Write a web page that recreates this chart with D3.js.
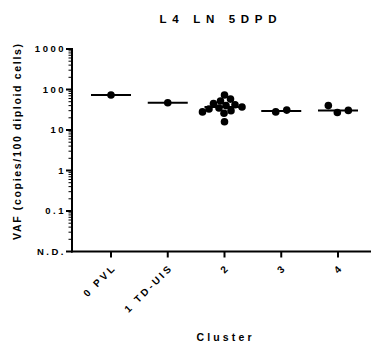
<!DOCTYPE html>
<html>
<head>
<meta charset="utf-8">
<script src="https://cdn.jsdelivr.net/npm/d3@7"></script>
<style>
	body { margin: 0; background: #fff; }
	svg { display: block; font-family: 'Liberation Sans', Arial, sans-serif; font-weight: bold; }
</style>
</head>
<body>
<svg id="chart-svg" width="371" height="346"></svg>
<script>
// values
const clusters = ['0 PVL', '1 TD-UIS', '2', '3', '4'];
const cluster0 = [73];
const cluster1 = [47];
const cluster2 = [73, 16, 58, 52, 45, 42, 40, 37, 35, 33, 30, 28, 26];
const cluster3 = [28, 31];
const cluster4 = [27, 30.5, 40];
const yTicks = [0.01, 0.1, 1, 10, 100, 1000];
const yTickLabels = ['N.D.', '0.1', '1', '10', '100', '1000'];

const seriesData = [cluster0, cluster1, cluster2, cluster3, cluster4];
const swarmGap = [11, 11, 7, 11, 11]; // spacing used to spread dots of each cluster

const svg = d3.select('#chart-svg');

const x = d3.scalePoint().domain(clusters).range([111, 338]);
const y = d3.scaleLog().domain([0.01, 1000]).range([251.5, 49]);

// title
svg.append('text')
	.attr('x', 218).attr('y', 23)
	.attr('text-anchor', 'middle')
	.attr('font-size', 11.5)
	.attr('textLength', 117).attr('lengthAdjust', 'spacing')
	.text('L4 LN 5DPD');

// y axis: minor ticks first
let minor = [];
for (let e = -2; e < 3; e++) {
	for (let m = 2; m < 10; m++) minor.push(m * Math.pow(10, e));
}
const yAxisG = svg.append('g');
yAxisG.selectAll('line.minor').data(minor).enter().append('line')
	.attr('x1', 68.5).attr('x2', 72)
	.attr('y1', (d) => y(d)).attr('y2', (d) => y(d))
	.attr('stroke', '#000').attr('stroke-width', 1);
yAxisG.selectAll('line.major').data(yTicks).enter().append('line')
	.attr('x1', 66).attr('x2', 72)
	.attr('y1', (d) => y(d)).attr('y2', (d) => y(d))
	.attr('stroke', '#000').attr('stroke-width', 2);
yAxisG.append('line')
	.attr('x1', 72).attr('x2', 72)
	.attr('y1', y(1000) - 1).attr('y2', y(0.01) + 1)
	.attr('stroke', '#000').attr('stroke-width', 2);
yAxisG.selectAll('text').data(yTicks).enter().append('text')
	.attr('x', 66).attr('y', (d) => y(d) + 3.4)
	.attr('text-anchor', 'end')
	.attr('font-size', 9.5)
	.attr('letter-spacing', 2.5)
	.text((d, i) => yTickLabels[i]);

// x axis
const xAxisG = svg.append('g');
xAxisG.append('line')
	.attr('x1', 71).attr('x2', 371)
	.attr('y1', y(0.01)).attr('y2', y(0.01))
	.attr('stroke', '#000').attr('stroke-width', 2);
xAxisG.selectAll('line.tick').data(clusters).enter().append('line')
	.attr('x1', (d) => x(d)).attr('x2', (d) => x(d))
	.attr('y1', y(0.01)).attr('y2', y(0.01) + 6)
	.attr('stroke', '#000').attr('stroke-width', 2);
xAxisG.selectAll('text').data(clusters).enter().append('text')
	.attr('transform', (d) => 'translate(' + (x(d) + 6) + ',' + 268 + ') rotate(-45)')
	.attr('text-anchor', 'end')
	.attr('font-size', 10)
	.attr('letter-spacing', 2.8)
	.text((d) => d);

// axis titles
svg.append('text')
	.attr('transform', 'translate(21,142) rotate(-90)')
	.attr('text-anchor', 'middle')
	.attr('font-size', 10.5)
	.attr('textLength', 196).attr('lengthAdjust', 'spacing')
	.text('VAF (copies/100 diploid cells)');
svg.append('text')
	.attr('x', 224).attr('y', 341)
	.attr('text-anchor', 'middle')
	.attr('font-size', 10.5)
	.attr('textLength', 55).attr('lengthAdjust', 'spacing')
	.text('Cluster');

// simple beeswarm so dots with similar values spread sideways
function swarm(values, minDist) {
	let placed = [];
	values.forEach((v) => {
		let py = y(v);
		let off = 0;
		for (let k = 0; k < 200; k++) {
			let cand = k === 0 ? 0 : (k % 2 ? 1 : -1) * Math.ceil(k / 2) * 0.5;
			let ok = placed.every((p) => {
				let dx = p.dx - cand, dy = p.y - py;
				return dx * dx + dy * dy >= minDist * minDist;
			});
			if (ok) { off = cand; break; }
		}
		placed.push({ v: v, y: py, dx: off });
	});
	const meanDx = d3.mean(placed, (p) => p.dx);
	if (placed.length < 4) placed.forEach((p) => (p.dx -= meanDx));
	return placed;
}

const groups = svg.selectAll('g.cluster').data(seriesData).enter().append('g')
	.attr('class', 'cluster')
	.attr('transform', (d, i) => 'translate(' + x(clusters[i]) + ',0)');

groups.append('line')
	.attr('x1', -20).attr('x2', 20)
	.attr('y1', (d) => y(d3.median(d))).attr('y2', (d) => y(d3.median(d)))
	.attr('stroke', '#000').attr('stroke-width', 2);

groups.selectAll('circle').data((d, i) => swarm(d, swarmGap[i])).enter().append('circle')
	.attr('cx', (p) => p.dx)
	.attr('cy', (p) => p.y)
	.attr('r', 3.8)
	.attr('fill', '#000');
</script>
</body>
</html>
